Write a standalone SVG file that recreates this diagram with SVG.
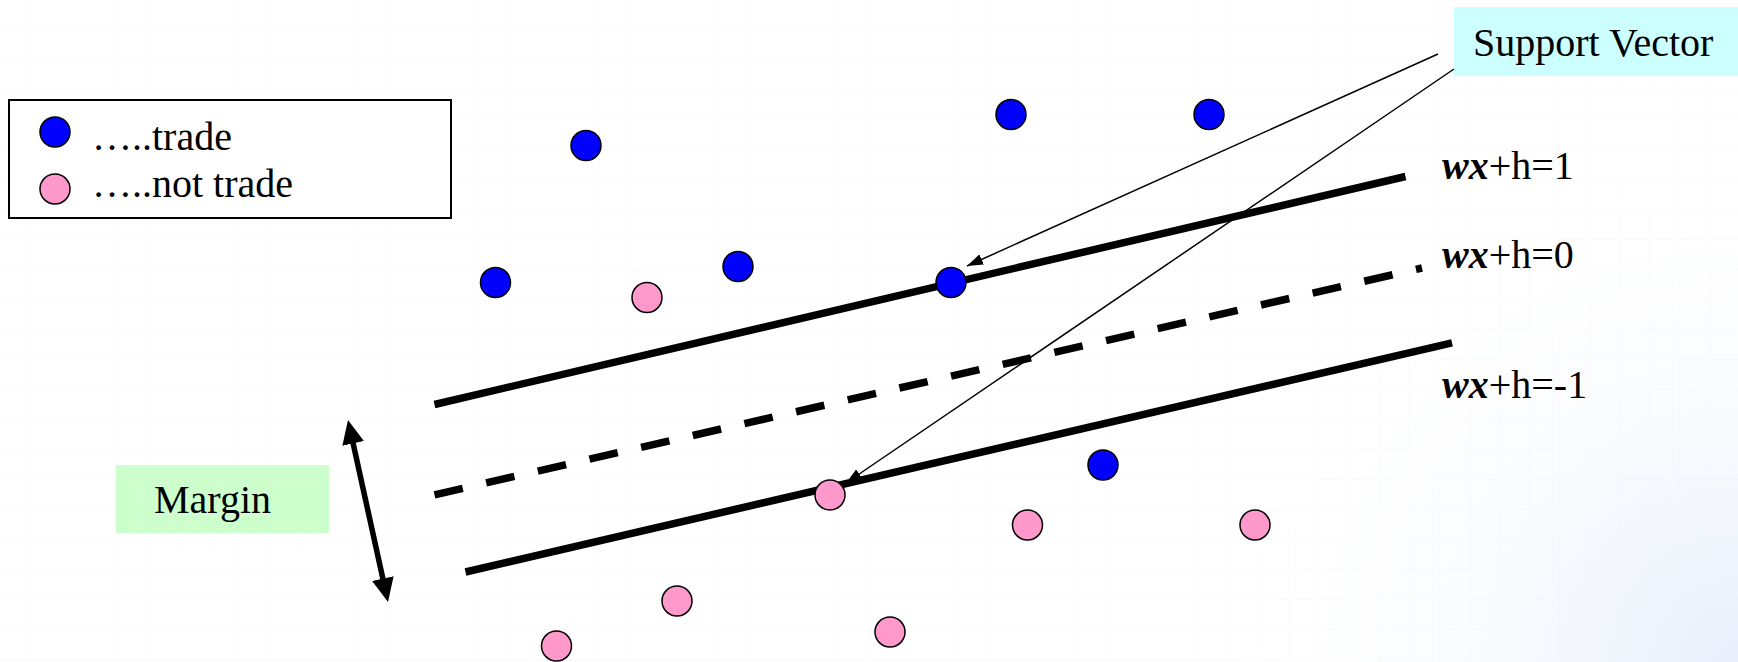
<svg xmlns="http://www.w3.org/2000/svg" width="1738" height="662" viewBox="0 0 1738 662">
<style>
text{font-family:"Liberation Serif","Times New Roman",serif;font-size:40px;fill:#000}
.b{font-weight:bold;font-style:italic}
.pt{stroke:#000;stroke-width:1.5}
.blue{fill:#0000ff}
.pink{fill:#ff99cc}
.hyp{stroke:#000;stroke-width:7.5;fill:none}
.thin{stroke:#000;stroke-width:1.5;fill:none}
</style>
<defs>
<pattern id="grid" width="30" height="30" patternUnits="userSpaceOnUse">
<path d="M30 0V30M0 30H30" stroke="#f6f6f6" stroke-width="1" fill="none"/>
</pattern>
<radialGradient id="corner" cx="1738" cy="662" r="520" gradientUnits="userSpaceOnUse">
<stop offset="0" stop-color="#e8eefb"/>
<stop offset="1" stop-color="#ffffff" stop-opacity="0"/>
</radialGradient>
<marker id="ah" markerUnits="userSpaceOnUse" markerWidth="16" markerHeight="11" refX="16" refY="5.5" orient="auto">
<path d="M0,0L16,5.5L0,11z" fill="#000"/>
</marker>
<marker id="dh" markerUnits="userSpaceOnUse" markerWidth="24" markerHeight="22" refX="9" refY="11" orient="auto-start-reverse">
<path d="M0,0L24,11L0,22z" fill="#000"/>
</marker>
</defs>
<rect width="1738" height="662" fill="#fff"/>
<rect width="1738" height="662" fill="url(#grid)"/>
<rect width="1738" height="662" fill="url(#corner)"/>

<g id="connectors">
<line id="plane-pos" class="hyp" x1="434.5" y1="404.5" x2="1405.5" y2="176.5"/>
<line id="plane-zero" class="hyp" x1="434.5" y1="494.8" x2="1422" y2="268" stroke-dasharray="29 24"/>
<line id="plane-neg" class="hyp" x1="465.5" y1="572" x2="1452" y2="342.8"/>
<line id="sv-arrow1" class="thin" x1="1438" y1="54" x2="967" y2="266" marker-end="url(#ah)"/>
<line id="sv-arrow2" class="thin" x1="1454" y1="69" x2="846" y2="483" marker-end="url(#ah)"/>
<line id="margin-arrow" x1="351.2" y1="434.7" x2="384.8" y2="587.3" stroke="#000" stroke-width="5.5" marker-start="url(#dh)" marker-end="url(#dh)"/>
</g>

<g id="legend">
<rect x="9" y="100" width="442" height="118" fill="#fff" stroke="#000" stroke-width="2"/>
<circle class="pt blue" cx="55" cy="132" r="15"/>
<circle class="pt pink" cx="55" cy="189" r="15"/>
<text x="92" y="150">…..trade</text>
<text x="92" y="197">…..not trade</text>
</g>

<g id="support-vector-label">
<rect x="1454" y="7" width="284" height="69" fill="#ccffff"/>
<text x="1473" y="56">Support Vector</text>
</g>

<g id="margin-label">
<rect x="116" y="465" width="213" height="68" fill="#ccffcc"/>
<text x="154" y="513">Margin</text>
</g>

<g id="plane-labels">
<text id="lbl-pos" x="1442" y="179"><tspan class="b">wx</tspan>+h=1</text>
<text id="lbl-zero" x="1442" y="268"><tspan class="b">wx</tspan>+h=0</text>
<text id="lbl-neg" x="1442" y="398"><tspan class="b">wx</tspan>+h=-1</text>
</g>

<g id="trade-points">
<circle class="pt blue" cx="586" cy="145.5" r="15"/>
<circle class="pt blue" cx="1011" cy="114.5" r="15"/>
<circle class="pt blue" cx="1209" cy="114.5" r="15"/>
<circle class="pt blue" cx="495.5" cy="282.5" r="15"/>
<circle class="pt blue" cx="738" cy="266.5" r="15"/>
<circle class="pt blue" cx="951" cy="282.5" r="15"/>
<circle class="pt blue" cx="1103" cy="465" r="15"/>
</g>

<g id="not-trade-points">
<circle class="pt pink" cx="647" cy="297.5" r="15"/>
<circle class="pt pink" cx="830" cy="495" r="15"/>
<circle class="pt pink" cx="1027.5" cy="525" r="15"/>
<circle class="pt pink" cx="1255" cy="525" r="15"/>
<circle class="pt pink" cx="677" cy="601" r="15"/>
<circle class="pt pink" cx="890" cy="632" r="15"/>
<circle class="pt pink" cx="556.5" cy="646" r="15"/>
</g>
</svg>
